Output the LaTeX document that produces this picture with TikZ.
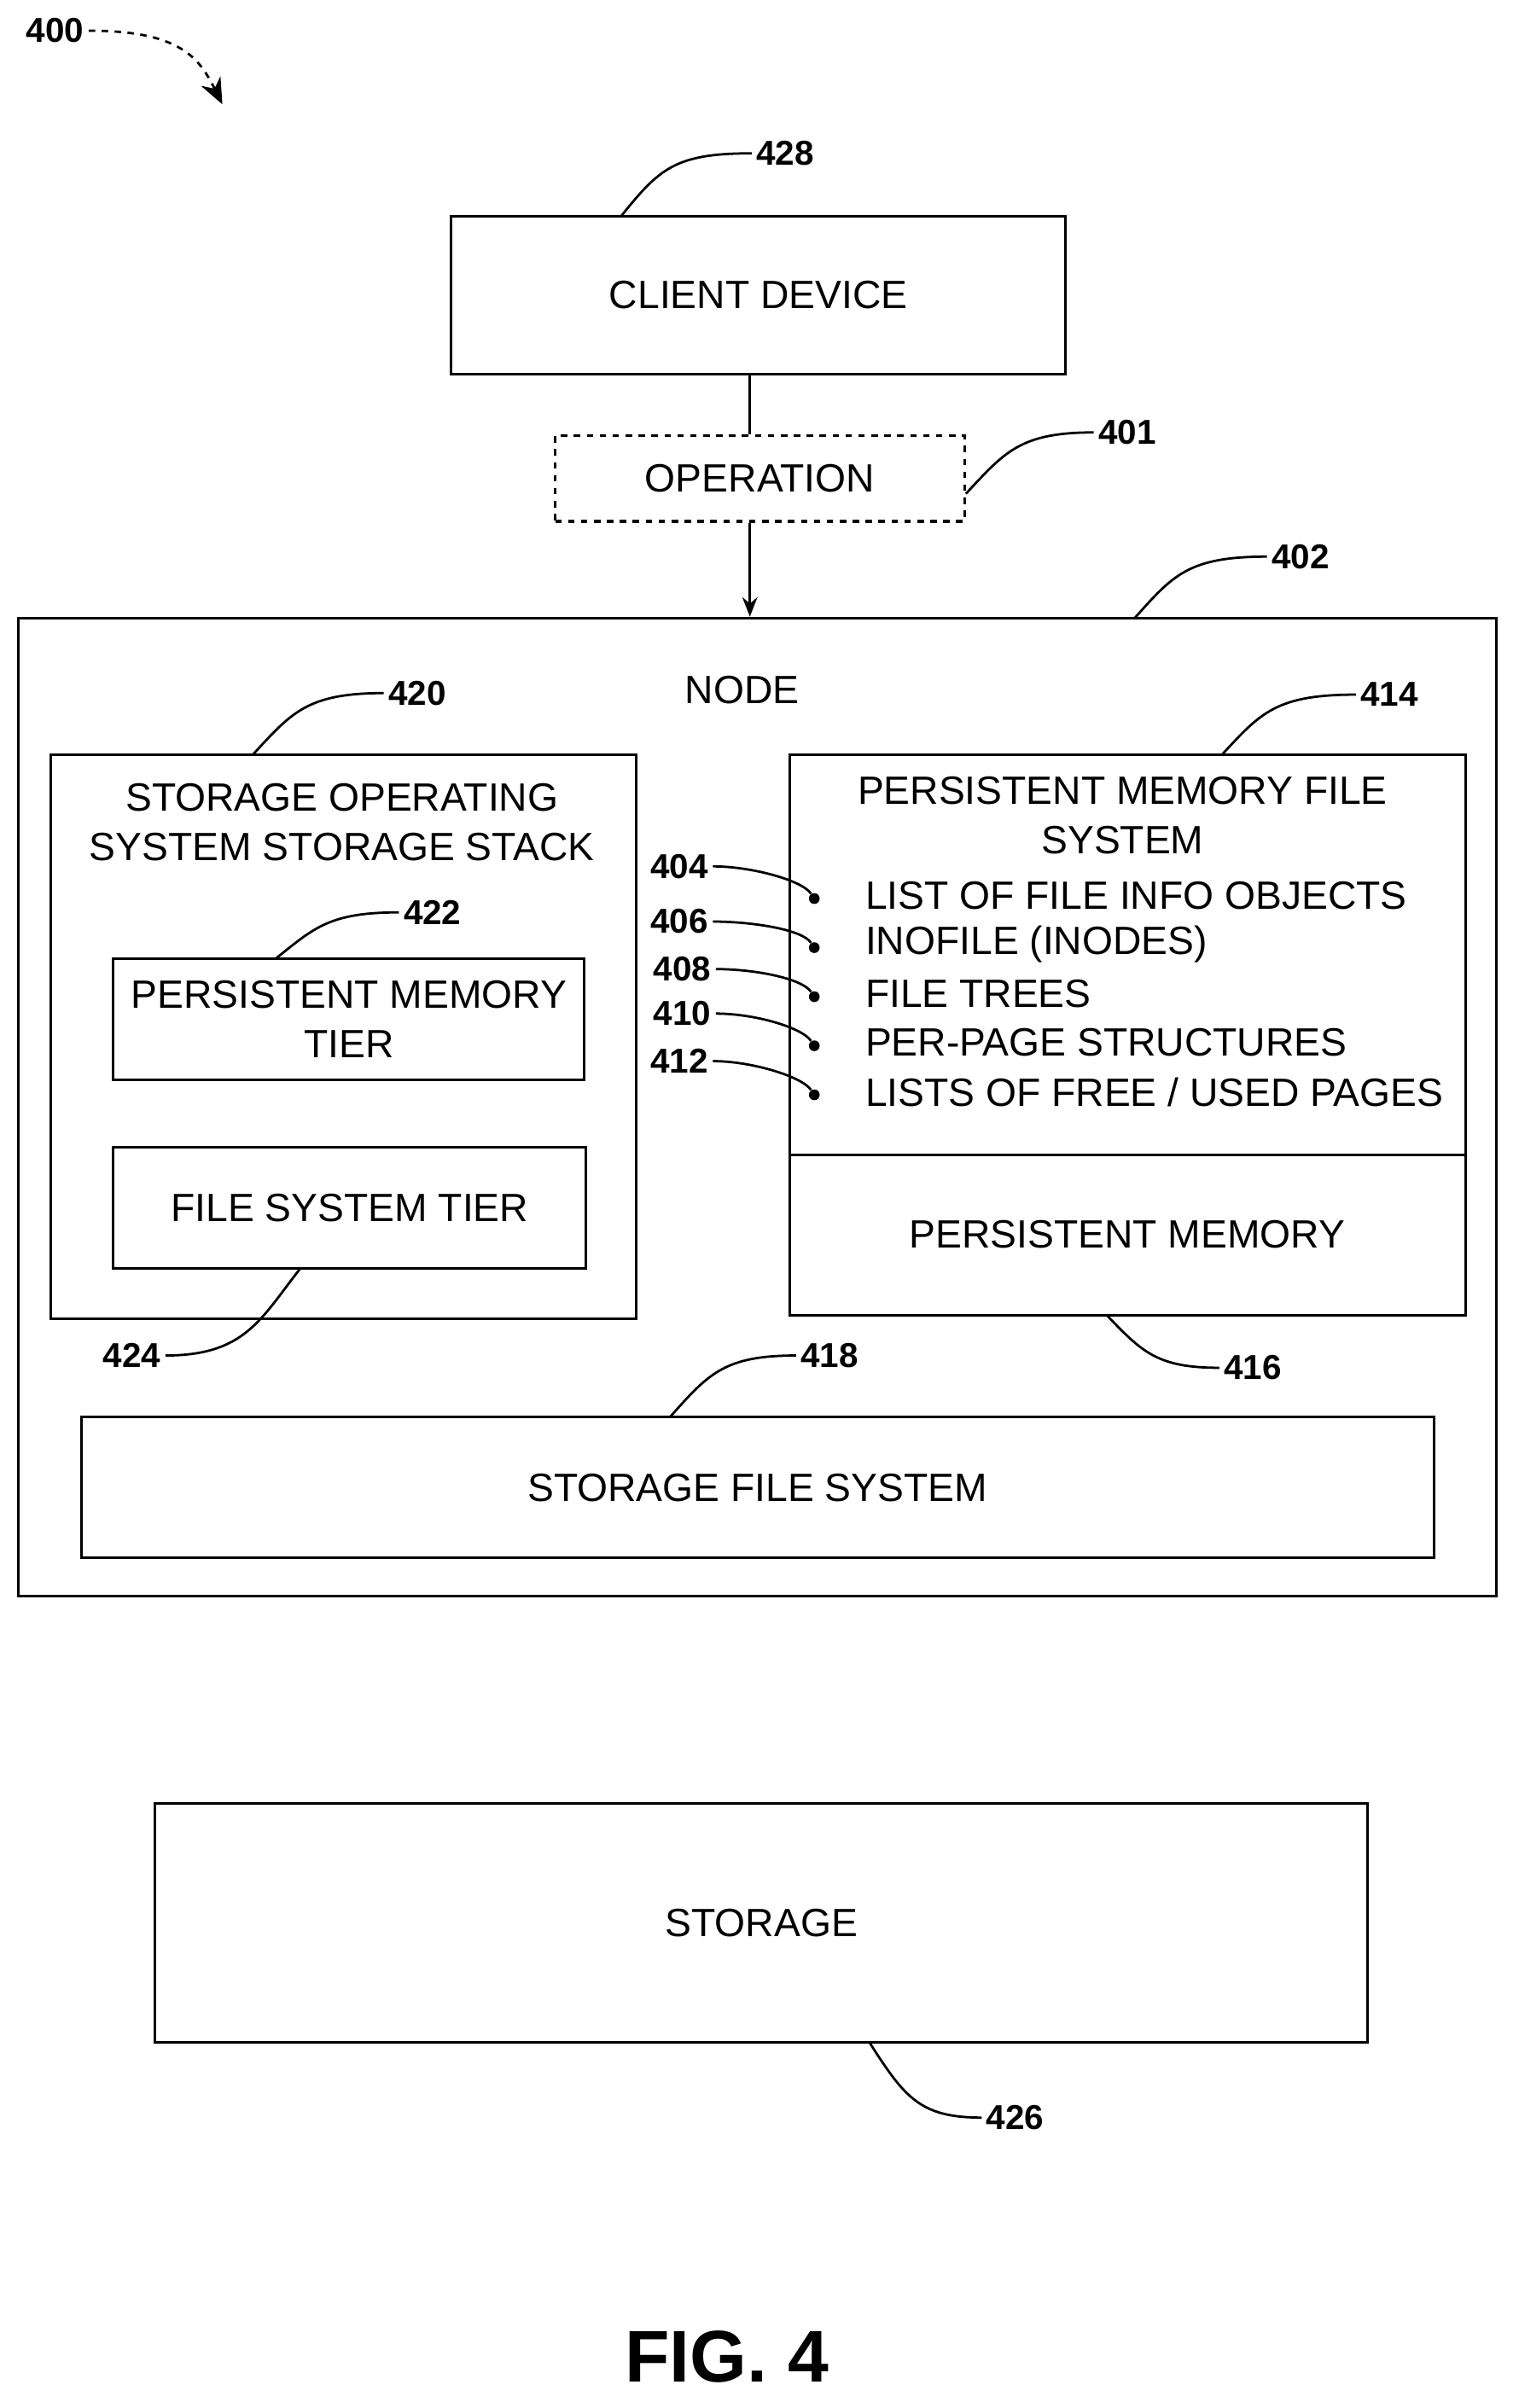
\documentclass[tikz,border=0pt]{standalone}
\usepackage{fontspec}
\setmainfont{Liberation Sans}
\usetikzlibrary{arrows.meta}
\tikzset{
    box/.style={draw, line width=1.2pt, rectangle, inner sep=0pt, align=center,
        font=\fontsize{18.3}{23}\selectfont},
    txt/.style={inner sep=0pt, align=center, font=\fontsize{18.3}{23}\selectfont},
    lbl/.style={inner sep=2pt, font=\bfseries\fontsize{16}{18}\selectfont},
    lead/.style={line width=1.1pt},
    dot/.style={circle, fill, inner sep=0pt, minimum size=5pt}
}
\begin{document}
\begin{tikzpicture}[x=0.25mm, y=-0.25mm]
    \useasboundingbox (0,0) rectangle (990,1570.4);
    % Boxes (centre, size)
    \node[box, minimum width=401*0.25mm, minimum height=103*0.25mm] (client) at (494.5,192.5) {CLIENT DEVICE};
    \node[box, dashed, minimum width=267*0.25mm, minimum height=56*0.25mm] (op) at (495.5,312) {OPERATION};
    \node[box, minimum width=964*0.25mm, minimum height=638*0.25mm] (node) at (494,722) {};
    \node[txt] (nodetxt) at (484,450) {NODE};
    \node[box, minimum width=382*0.25mm, minimum height=368*0.25mm] (stack) at (224,676) {};
    \node[txt] (stacktxt) at (223,536) {STORAGE OPERATING\\SYSTEM STORAGE STACK};
    \node[box, minimum width=307*0.25mm, minimum height=79*0.25mm] (pmtier) at (227.5,664.5) {PERSISTENT MEMORY\\TIER};
    \node[box, minimum width=308*0.25mm, minimum height=79*0.25mm] (fstier) at (228,787.5) {FILE SYSTEM TIER};
    \node[box, minimum width=441*0.25mm, minimum height=366*0.25mm] (pmfs) at (735.5,675) {};
    \draw[line width=1.2pt] (pmfs.west |- 0,753) coordinate (divl) -- (pmfs.east |- 0,753) coordinate (divr);
    \node[txt] (pmfstxt) at (732,532) {PERSISTENT MEMORY FILE\\SYSTEM};
    \node[txt] (pmtxt) at (735,805) {PERSISTENT MEMORY};
    \node[box, minimum width=882*0.25mm, minimum height=92*0.25mm] (sfs) at (494,970) {STORAGE FILE SYSTEM};
    \node[box, minimum width=791*0.25mm, minimum height=156*0.25mm] (storage) at (496.5,1254) {STORAGE};
    \node[font=\bfseries\fontsize{34}{36}\selectfont, inner sep=0pt] (fig) at (474,1537) {FIG. 4};

    % List items, dots and reference labels
    \foreach \y/\t/\n in {584/{LIST OF FILE INFO OBJECTS}/404, 616/{INOFILE (INODES)}/406,
        648/{FILE TREES}/408, 680/{PER-PAGE STRUCTURES}/410, 712/{LISTS OF FREE / USED PAGES}/412} {
        \node[txt, anchor=west] (item\n) at (564,\y) {\t};
        \node[dot] (dot\n) at (531,\y+2) {};
    }
    \node[lbl] (l404) at (443,565) {404};
    \node[lbl] (l406) at (443,601) {406};
    \node[lbl] (l408) at (445,632) {408};
    \node[lbl] (l410) at (445,661) {410};
    \node[lbl] (l412) at (443,692) {412};
    \foreach \n in {404,406,408,410,412}
        \draw[lead] (l\n.east) .. controls +(25,0) and +(-8,-12) .. (dot\n);

    % Connectors
    \draw[line width=1.2pt] (client.south -| 489,0) -- (op.north -| 489,0);
    \draw[line width=1.2pt, -{Stealth[length=9pt, width=7pt]}] (op.south -| 489,0) -- (node.north -| 489,0);

    % Reference labels with leaders
    \node[lbl] (l400) at (36,20) {400};
    \node[lbl] (l428) at (512,100) {428};
    \node[lbl] (l401) at (735,282) {401};
    \node[lbl] (l402) at (848,363) {402};
    \node[lbl] (l420) at (272,452) {420};
    \node[lbl] (l414) at (906,453) {414};
    \node[lbl] (l422) at (282,595) {422};
    \node[lbl] (l424) at (86,884) {424};
    \node[lbl] (l416) at (817,892) {416};
    \node[lbl] (l418) at (541,884) {418};
    \node[lbl] (l426) at (662,1381) {426};
    \coordinate (a400) at (145,68);
    \draw[lead, dashed, -{Stealth[length=12pt, width=10pt]}] (l400.east) .. controls +(60,0) and +(-15,-30) .. (a400);
    \draw[lead] (405,141) .. controls (430,110) and (440,100) .. (l428.west);
    \draw[lead] (op.east |- 0,322) .. controls (655,295) and (665,282) .. (l401.west);
    \draw[lead] (740,403) .. controls (765,375) and (775,363) .. (l402.west);
    \draw[lead] (165,492) .. controls (190,465) and (200,452) .. (l420.west);
    \draw[lead] (797,492) .. controls (822,465) and (832,453) .. (l414.west);
    \draw[lead] (180,625) .. controls (205,605) and (215,595) .. (l422.west);
    \draw[lead] (196,827) .. controls (170,860) and (160,884) .. (l424.east);
    \draw[lead] (722,858) .. controls (745,882) and (755,892) .. (l416.west);
    \draw[lead] (437,924) .. controls (462,896) and (472,884) .. (l418.west);
    \draw[lead] (567,1332) .. controls (590,1368) and (600,1381) .. (l426.west);
\end{tikzpicture}
\end{document}
